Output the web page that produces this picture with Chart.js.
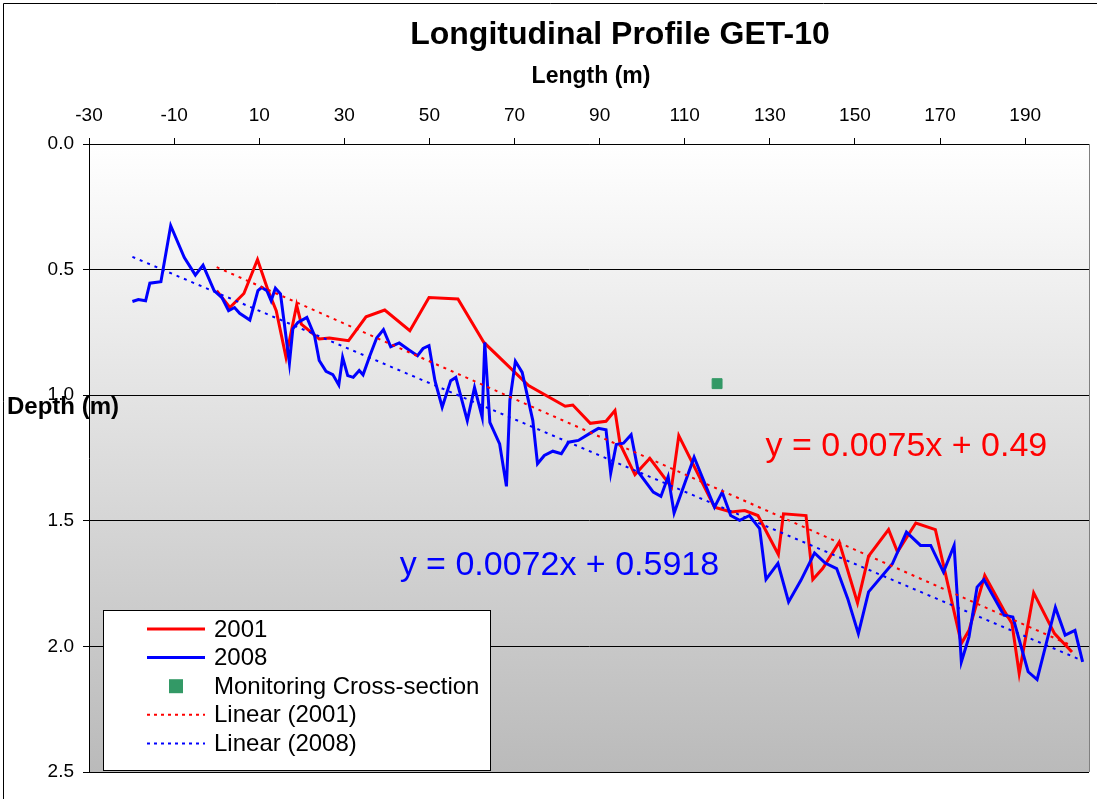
<!DOCTYPE html>
<html>
<head>
<meta charset="utf-8">
<script src="https://cdn.jsdelivr.net/npm/chart.js@4.4.1/dist/chart.umd.min.js"></script>
<style>
  body { margin: 0; background: #fff; }
  canvas { display: block; }
</style>
</head>
<body>
<canvas id="profileChart" width="1097" height="799"></canvas>
<script>
const xTicks = [-30, -10, 10, 30, 50, 70, 90, 110, 130, 150, 170, 190];

const x2001 = [0.0, 3.1, 6.4, 9.6, 12.0, 14.0, 16.3, 18.8, 19.9, 24.1, 26.5, 31.0, 35.1, 39.5, 45.4, 49.9, 56.7, 62.8, 73.3, 81.9,
  83.7, 87.8, 91.5, 93.6, 94.8, 98.3, 101.8, 106.9, 108.6, 117.0, 120.9, 124.1, 127.2, 132.0, 133.2, 138.5, 140.1, 142.4, 146.3, 150.6,
  153.2, 157.9, 160.0, 164.3, 168.9, 175.0, 176.8, 180.5, 185.0, 186.9, 188.6, 192.0, 196.9, 201.0];
const depth2001 = [0.584, 0.651, 0.595, 0.460, 0.579, 0.664, 0.849, 0.641, 0.717, 0.776, 0.772, 0.783, 0.688, 0.661, 0.743, 0.611, 0.617, 0.790, 0.962, 1.044,
  1.039, 1.112, 1.104, 1.061, 1.194, 1.316, 1.251, 1.366, 1.161, 1.446, 1.465, 1.459, 1.479, 1.634, 1.472, 1.479, 1.734, 1.690, 1.585, 1.827,
  1.641, 1.535, 1.624, 1.509, 1.535, 1.988, 1.936, 1.717, 1.856, 1.909, 2.108, 1.787, 1.949, 2.022];

const x2008 = [-19.8, -18.4, -16.7, -15.7, -13.1, -10.8, -7.6, -5.0, -3.2, -0.6,
  1.3, 2.8, 4.2, 5.4, 7.8, 9.7, 10.6, 11.8, 12.8, 13.8,
  15.0, 17.1, 17.9, 19.1, 21.2, 23.0, 24.1, 25.7, 27.3, 28.7,
  29.6, 30.8, 32.1, 33.5, 34.4, 36.0, 37.6, 39.2, 40.9, 42.9,
  45.2, 47.2, 48.5, 49.9, 51.3, 53.0, 55.0, 56.2, 58.9, 60.6,
  62.4, 63.0, 64.2, 66.5, 68.1, 68.9, 70.2, 71.8, 74.3, 75.4,
  77.0, 79.0, 81.0, 82.7, 85.0, 87.8, 89.7, 91.5, 92.6, 93.9,
  95.6, 97.4, 99.1, 102.6, 104.4, 106.1, 107.5, 112.2, 117.0, 118.8,
  120.8, 122.9, 125.2, 127.6, 129.1, 131.9, 134.4, 137.3, 140.5, 143.0,
  145.7, 148.3, 150.8, 153.2, 158.8, 162.1, 165.4, 167.8, 170.8, 173.3,
  175.0, 176.8, 178.7, 180.3, 185.0, 187.1, 190.7, 192.8, 197.1, 199.4, 201.7, 203.5];
const depth2008 = [0.627, 0.619, 0.624, 0.554, 0.548, 0.325, 0.452, 0.522, 0.482, 0.584,
  0.613, 0.664, 0.651, 0.674, 0.701, 0.584, 0.571, 0.584, 0.624, 0.574,
  0.597, 0.873, 0.736, 0.710, 0.690, 0.763, 0.862, 0.905, 0.918, 0.959,
  0.849, 0.922, 0.929, 0.902, 0.919, 0.843, 0.772, 0.739, 0.807, 0.792,
  0.820, 0.843, 0.814, 0.803, 0.942, 1.048, 0.942, 0.929, 1.101, 0.969,
  1.088, 0.790, 1.108, 1.194, 1.363, 1.021, 0.865, 0.909, 1.101, 1.273,
  1.240, 1.223, 1.233, 1.187, 1.180, 1.151, 1.132, 1.138, 1.310, 1.196,
  1.191, 1.157, 1.306, 1.386, 1.403, 1.324, 1.469, 1.247, 1.446, 1.386,
  1.479, 1.498, 1.479, 1.531, 1.733, 1.669, 1.823, 1.737, 1.628, 1.668,
  1.690, 1.810, 1.949, 1.783, 1.671, 1.545, 1.598, 1.598, 1.704, 1.598,
  2.062, 1.962, 1.764, 1.734, 1.876, 1.883, 2.101, 2.132, 1.845, 1.955, 1.936, 2.062];

const xCrossSection = [117.6];
const depthCrossSection = [0.954];

// trendline equations as printed on the chart
const trend2001 = { slope: 0.0075, intercept: 0.49, label: 'y = 0.0075x + 0.49' };
const trend2008 = { slope: 0.0072, intercept: 0.5918, label: 'y = 0.0072x + 0.5918' };

const RED = '#ff0000';
const BLUE = '#0000ff';
const GREEN = '#339966';
const FONT = 'Arial, "Liberation Sans", sans-serif';

function toPoints(xs, ys) {
  return xs.map((x, i) => ({ x: x, y: ys[i] }));
}
function trendPoints(xs, t) {
  const a = xs[0], b = xs[xs.length - 1];
  return [{ x: a, y: t.slope * a + t.intercept }, { x: b, y: t.slope * b + t.intercept }];
}

const chartDecor = {
  id: 'chartDecor',
  beforeDraw(chart) {
    const { ctx, chartArea: a } = chart;
    ctx.save();
    ctx.fillStyle = '#fff';
    ctx.fillRect(0, 0, chart.width, chart.height);
    const g = ctx.createLinearGradient(0, a.top, 0, a.bottom);
    g.addColorStop(0, '#ffffff');
    g.addColorStop(1, '#bababa');
    ctx.fillStyle = g;
    ctx.fillRect(a.left, a.top, a.right - a.left, a.bottom - a.top);
    ctx.restore();
  },
  afterDatasetsDraw(chart) {
    const { ctx, chartArea: a, scales } = chart;
    ctx.save();
    // right / bottom edge of plot
    ctx.strokeStyle = '#808080';
    ctx.lineWidth = 1;
    ctx.beginPath();
    ctx.moveTo(a.right + 0.5, a.top);
    ctx.lineTo(a.right + 0.5, a.bottom);
    ctx.stroke();
    ctx.strokeStyle = '#000';
    ctx.beginPath();
    ctx.moveTo(a.left, a.bottom + 0.5);
    ctx.lineTo(a.right, a.bottom + 0.5);
    ctx.stroke();

    // equations
    ctx.font = '34px ' + FONT;
    ctx.textBaseline = 'middle';
    ctx.textAlign = 'left';
    ctx.fillStyle = RED;
    ctx.fillText(trend2001.label, scales.x.getPixelForValue(129.0), scales.y.getPixelForValue(1.204));
    ctx.fillStyle = BLUE;
    ctx.fillText(trend2008.label, scales.x.getPixelForValue(43), scales.y.getPixelForValue(1.677));

    // titles
    ctx.fillStyle = '#000';
    ctx.textAlign = 'center';
    ctx.font = 'bold 32px ' + FONT;
    ctx.fillText('Longitudinal Profile GET-10', 620, 35);
    ctx.font = 'bold 23px ' + FONT;
    ctx.fillText('Length (m)', 591, 77);
    ctx.textAlign = 'left';
    ctx.font = 'bold 24px ' + FONT;
    ctx.fillText('Depth (m)', 7, 407);

    // legend
    const lx = 103, ly = 610, lw = 387, lh = 160;
    ctx.fillStyle = '#fff';
    ctx.fillRect(lx, ly, lw, lh);
    ctx.strokeStyle = '#000';
    ctx.lineWidth = 1;
    ctx.strokeRect(lx + 0.5, ly + 0.5, lw, lh);
    const items = [
      { text: '2001', type: 'line', color: RED },
      { text: '2008', type: 'line', color: BLUE },
      { text: 'Monitoring Cross-section', type: 'box', color: GREEN },
      { text: 'Linear (2001)', type: 'dot', color: RED },
      { text: 'Linear (2008)', type: 'dot', color: BLUE }
    ];
    ctx.font = '24px ' + FONT;
    items.forEach((it, i) => {
      const y = 629 + i * 28.6;
      if (it.type === 'box') {
        ctx.fillStyle = it.color;
        ctx.fillRect(169, y - 7, 14, 14);
      } else {
        ctx.strokeStyle = it.color;
        ctx.lineWidth = it.type === 'line' ? 3 : 2;
        ctx.setLineDash(it.type === 'dot' ? [3, 4] : []);
        ctx.beginPath();
        ctx.moveTo(147, y);
        ctx.lineTo(205, y);
        ctx.stroke();
        ctx.setLineDash([]);
      }
      ctx.fillStyle = '#000';
      ctx.fillText(it.text, 214, y + 1);
    });

    // outer frame
    ctx.strokeStyle = '#000';
    ctx.lineWidth = 1;
    ctx.beginPath();
    ctx.moveTo(3.5, 799);
    ctx.lineTo(3.5, 3.5);
    ctx.lineTo(1097, 3.5);
    ctx.stroke();
    ctx.restore();
  }
};

const ctx = document.getElementById('profileChart').getContext('2d');

const profileChart = new Chart(ctx, {
  type: 'scatter',
  data: {
    datasets: [
      {
        label: 'Linear (2001)',
        data: trendPoints(x2001, trend2001),
        showLine: true,
        borderColor: RED,
        borderWidth: 2,
        borderDash: [3, 5],
        pointRadius: 0,
        order: -2
      },
      {
        label: 'Linear (2008)',
        data: trendPoints(x2008, trend2008),
        showLine: true,
        borderColor: BLUE,
        borderWidth: 2,
        borderDash: [3, 5],
        pointRadius: 0,
        order: -1
      },
      {
        label: 'Monitoring Cross-section',
        data: toPoints(xCrossSection, depthCrossSection),
        pointStyle: 'rect',
        pointRadius: 7,
        backgroundColor: GREEN,
        borderColor: GREEN,
        order: 0
      },
      {
        label: '2008',
        data: toPoints(x2008, depth2008),
        showLine: true,
        borderColor: BLUE,
        borderWidth: 3,
        pointRadius: 0,
        tension: 0,
        order: 1
      },
      {
        label: '2001',
        data: toPoints(x2001, depth2001),
        showLine: true,
        borderColor: RED,
        borderWidth: 3,
        pointRadius: 0,
        tension: 0,
        order: 2
      }
    ]
  },
  options: {
    responsive: false,
    animation: false,
    layout: { padding: { left: 0, top: 0, right: 6, bottom: 27 } },
    scales: {
      x: {
        type: 'linear',
        position: 'top',
        min: -30,
        max: 205,
        afterBuildTicks(scale) {
          scale.ticks = xTicks.map(v => ({ value: v }));
        },
        afterFit(scale) { scale.height = 144; },
        grid: { drawOnChartArea: false, color: '#000', tickLength: 6 },
        border: { color: '#000', width: 1 },
        ticks: { color: '#000', font: { family: FONT, size: 19 }, padding: 11, maxRotation: 0 }
      },
      y: {
        type: 'linear',
        reverse: true,
        min: 0,
        max: 2.5,
        afterFit(scale) { scale.width = 89; },
        grid: { color: '#000', tickLength: 6 },
        border: { color: '#000', width: 1 },
        ticks: {
          stepSize: 0.5,
          color: '#000',
          font: { family: FONT, size: 19 },
          padding: 9,
          callback: v => v.toFixed(1)
        }
      }
    },
    plugins: {
      legend: { display: false },
      tooltip: { enabled: false }
    }
  },
  plugins: [chartDecor]
});
</script>
</body>
</html>
